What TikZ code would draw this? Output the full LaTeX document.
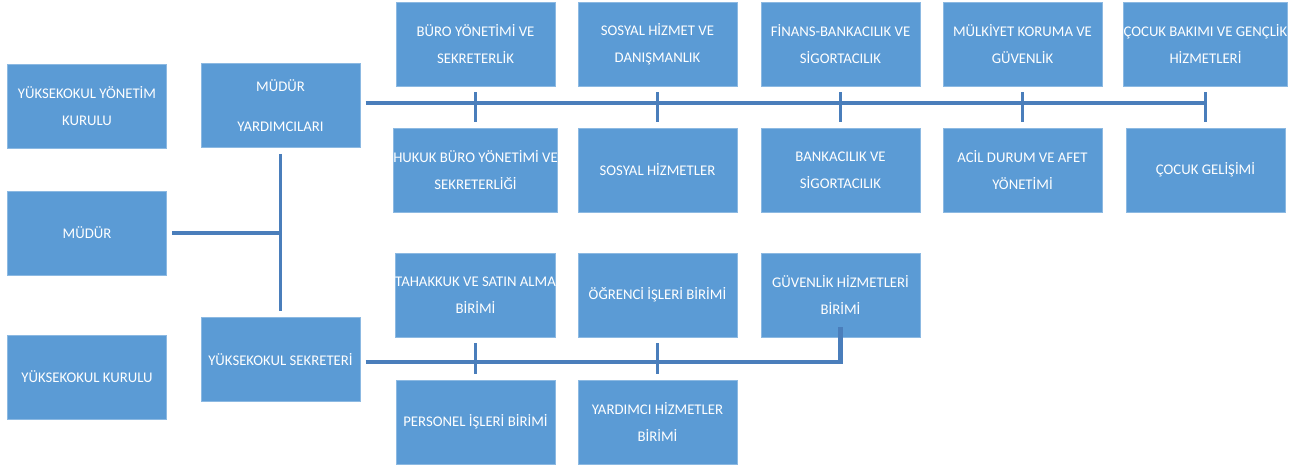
\documentclass[tikz,border=0pt]{standalone}
\usepackage{fontspec}
\setmainfont{Carlito}
\definecolor{boxblue}{HTML}{5B9BD5}
\definecolor{lineblue}{HTML}{4A7EBB}
\tikzset{
  unit/.style={fill=boxblue,draw=boxblue!70!white,line width=0.4pt,text=white,
    minimum width=3.18cm,minimum height=1.68cm,inner sep=0pt,align=center,
    font=\fontsize{8.4}{15.5}\selectfont},
  mainline/.style={draw=lineblue,line width=2.3pt},
  tick/.style={draw=lineblue,line width=1.4pt,shorten <=0.12cm,shorten >=0.12cm}
}
\begin{document}
\begin{tikzpicture}[x=0.02cm,y=-0.02cm]
      \useasboundingbox (0,0) rectangle (1303,468);
      \draw
        (87,106) node[unit] (yk){YÜKSEKOKUL YÖNETİM\\KURULU}
        (87,233) node[unit] (md){MÜDÜR}
        (87,377) node[unit] (ku){YÜKSEKOKUL KURULU}
        (280.5,105.5) node[unit,font=\fontsize{8.4}{23}\selectfont] (my){MÜDÜR\\YARDIMCILARI}
        (280.5,359.5) node[unit] (sek){YÜKSEKOKUL SEKRETERİ};
      \draw
        (475.5,44) node[unit] (a1){BÜRO YÖNETİMİ VE\\SEKRETERLİK}
        (657.5,44) node[unit] (a2){SOSYAL HİZMET VE\\DANIŞMANLIK}
        (840.5,44) node[unit] (a3){FİNANS-BANKACILIK VE\\SİGORTACILIK}
        (1022.5,44) node[unit] (a4){MÜLKİYET KORUMA VE\\GÜVENLİK}
        (1205.5,44) node[unit] (a5){ÇOCUK BAKIMI VE GENÇLİK\\HİZMETLERİ}
        (475.5,170) node[unit] (b1){HUKUK BÜRO YÖNETİMİ VE\\SEKRETERLİĞİ}
        (657.5,170) node[unit] (b2){SOSYAL HİZMETLER}
        (840.5,170) node[unit] (b3){BANKACILIK VE\\SİGORTACILIK}
        (1022.5,170) node[unit] (b4){ACİL DURUM VE AFET\\YÖNETİMİ}
        (1205.5,170) node[unit] (b5){ÇOCUK GELİŞİMİ};
      \draw
        (475.5,295) node[unit] (c1){TAHAKKUK VE SATIN ALMA\\BİRİMİ}
        (657.5,295) node[unit] (c2){ÖĞRENCİ İŞLERİ BİRİMİ}
        (840.5,295) node[unit] (c3){GÜVENLİK HİZMETLERİ\\BİRİMİ}
        (475.5,422) node[unit] (d1){PERSONEL İŞLERİ BİRİMİ}
        (657.5,422) node[unit] (d2){YARDIMCI HİZMETLER\\BİRİMİ};
      \begin{scope}[-]
        \draw[tick,line width=2pt] (my.south) to (sek.north);
        \draw[mainline] ([xshift=3]md.east) to (md.east -| my.south);
        \draw[mainline] ([xshift=3,yshift=1.5]my.east) to ([yshift=1.5]my.east -| a5.south);
        \draw[tick] (a1.south) to (b1.north);
        \draw[tick] (a2.south) to (b2.north);
        \draw[tick] (a3.south) to (b3.north);
        \draw[tick] (a4.south) to (b4.north);
        \draw[tick] (a5.south) to (b5.north);
        \draw[mainline] ([xshift=3,yshift=-1.5]sek.east) -| ([yshift=6]c3.south);
        \draw[tick] (c1.south) to (d1.north);
        \draw[tick] (c2.south) to (d2.north);
      \end{scope}
    \end{tikzpicture}
\end{document}
